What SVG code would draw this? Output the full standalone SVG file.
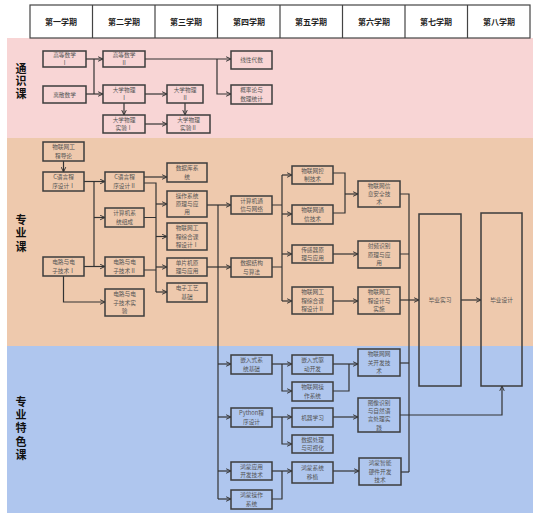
<svg xmlns="http://www.w3.org/2000/svg" width="542" height="520" viewBox="0 0 542 520">
<defs>
<marker id="a" viewBox="0 0 8 8" refX="7.5" refY="4" markerWidth="6" markerHeight="6" markerUnits="userSpaceOnUse" orient="auto">
<path d="M1,1 L7.5,4 L1,7" fill="none" stroke="#333" stroke-width="1.3"/>
</marker>
</defs>
<style>
.hd{fill:#fff;stroke:#444;stroke-width:1.2}
.ht{font-family:"Noto Sans CJK SC",sans-serif;font-size:8px;font-weight:bold;fill:#222;text-anchor:middle}
.lab{font-family:"Noto Sans CJK SC",sans-serif;font-size:11px;font-weight:bold;fill:#111;writing-mode:vertical-rl}
.n rect{fill:none;stroke:#3c3c3c;stroke-width:1.5}
.n text{font-family:"Noto Sans CJK SC",sans-serif;font-size:5.7px;fill:#555;text-anchor:middle}
.c path{fill:none;stroke:#333;stroke-width:1.2}
.c path.m{marker-end:url(#a)}
</style>
<rect width="542" height="520" fill="#fff"/>
<rect x="7" y="38" width="526" height="100" fill="#F8D5D5"/>
<rect x="7" y="138" width="526" height="208" fill="#EEC9AD"/>
<rect x="7" y="346" width="526" height="167" fill="#AFC6EE"/>
<g id="header">
<rect class="hd" x="30" y="5" width="500" height="33"/>
<path d="M92.5,5V38M155,5V38M217.5,5V38M280,5V38M342.5,5V38M405,5V38M467.5,5V38" stroke="#444" stroke-width="1.2"/>
<text class="ht" x="61" y="24.5">第一学期</text>
<text class="ht" x="124" y="24.5">第二学期</text>
<text class="ht" x="186" y="24.5">第三学期</text>
<text class="ht" x="249" y="24.5">第四学期</text>
<text class="ht" x="311" y="24.5">第五学期</text>
<text class="ht" x="374" y="24.5">第六学期</text>
<text class="ht" x="436" y="24.5">第七学期</text>
<text class="ht" x="499" y="24.5">第八学期</text>
</g>
<g id="labels">
<text class="lab" x="21" y="63" letter-spacing="1.5">通识课</text>
<text class="lab" x="21" y="214" letter-spacing="2.5">专业课</text>
<text class="lab" x="21" y="396" letter-spacing="2.3">专业特色课</text>
</g>
<g class="c" id="connectors">
<path class="m" d="M86,59H103"/>
<path class="m" d="M86,94H103"/>
<path d="M94,59V94"/>
<path class="m" d="M145,59H231"/>
<path class="m" d="M217,59V94H231"/>
<path class="m" d="M145,94H167"/>
<path class="m" d="M124,103V115"/>
<path class="m" d="M185,103V115"/>
<path class="m" d="M145,124H167"/>
<path class="m" d="M63.5,161V172"/>
<path class="m" d="M84,181.5H105"/>
<path d="M94,181.5V266.5"/>
<path class="m" d="M94,217.5H105"/>
<path class="m" d="M84,266.5H105"/>
<path class="m" d="M63.5,276V302H105"/>
<path class="m" d="M144,177H167"/>
<path d="M144,183H156V292M144,217.5H156M144,270H156"/>
<path class="m" d="M156,204H167"/>
<path class="m" d="M156,236.5H167"/>
<path class="m" d="M156,267H167"/>
<path class="m" d="M156,292H167"/>
<path class="m" d="M207,205H231"/>
<path d="M218,205V499"/>
<path class="m" d="M207,267H231"/>
<path d="M272,205H282M272,267H282M282,175V301"/>
<path class="m" d="M282,175H292"/>
<path class="m" d="M282,214H292"/>
<path class="m" d="M282,254H292"/>
<path class="m" d="M282,301H292"/>
<path d="M333,173H345V213H333"/>
<path class="m" d="M345,194H358"/>
<path class="m" d="M333,254H358"/>
<path class="m" d="M333,301H358"/>
<path d="M400,194H409V472M400,254H409"/>
<path class="m" d="M400,300H419"/>
<path class="m" d="M461,300H481"/>
<path class="m" d="M218,364H231"/>
<path class="m" d="M218,417H231"/>
<path class="m" d="M218,471H231"/>
<path class="m" d="M218,499H231"/>
<path class="m" d="M272,364H292"/>
<path class="m" d="M282,364V391H292"/>
<path class="m" d="M333,364H358"/>
<path d="M333,391H349V364"/>
<path d="M400,363H409"/>
<path class="m" d="M272,417H292"/>
<path class="m" d="M282,417V444H292"/>
<path class="m" d="M333,417H358"/>
<path class="m" d="M400,415H502V386"/>
<path class="m" d="M272,471H292"/>
<path d="M272,499H282V471"/>
<path class="m" d="M333,471H359"/>
<path d="M401,472H409"/>
</g>
<g class="n" id="gs1"><rect x="43" y="51" width="43" height="16"/><text><tspan x="64.5" y="56.9">高等数学</tspan><tspan x="64.5" y="65.2">Ⅰ</tspan></text></g>
<g class="n" id="ls"><rect x="43" y="86" width="43" height="17"/><text x="64.5" y="96.55">离散数学</text></g>
<g class="n" id="gs2"><rect x="103" y="51" width="42" height="16"/><text><tspan x="124" y="56.9">高等数学</tspan><tspan x="124" y="65.2">Ⅱ</tspan></text></g>
<g class="n" id="wl1"><rect x="103" y="85" width="42" height="18"/><text><tspan x="124" y="91.9">大学物理</tspan><tspan x="124" y="100.2">Ⅰ</tspan></text></g>
<g class="n" id="wlsy1"><rect x="103" y="115" width="42" height="18"/><text><tspan x="124" y="121.9">大学物理</tspan><tspan x="124" y="130.2">实验Ⅰ</tspan></text></g>
<g class="n" id="wl2"><rect x="167" y="85" width="36" height="18"/><text><tspan x="185" y="91.9">大学物理</tspan><tspan x="185" y="100.2">Ⅱ</tspan></text></g>
<g class="n" id="wlsy2"><rect x="167" y="115" width="43" height="18"/><text><tspan x="188.5" y="121.9">大学物理</tspan><tspan x="188.5" y="130.2">实验Ⅱ</tspan></text></g>
<g class="n" id="xxds"><rect x="231" y="51" width="41" height="18"/><text x="251.5" y="62.05">线性代数</text></g>
<g class="n" id="gl"><rect x="231" y="85" width="41" height="19"/><text><tspan x="251.5" y="92.4">概率论与</tspan><tspan x="251.5" y="100.7">数理统计</tspan></text></g>
<g class="n" id="dl"><rect x="43" y="142" width="41" height="19"/><text><tspan x="63.5" y="149.4">物联网工</tspan><tspan x="63.5" y="157.7">程导论</tspan></text></g>
<g class="n" id="c1"><rect x="43" y="172" width="41" height="19"/><text><tspan x="63.5" y="179.4">C语言程</tspan><tspan x="63.5" y="187.7">序设计Ⅰ</tspan></text></g>
<g class="n" id="c2"><rect x="105" y="172" width="39" height="19"/><text><tspan x="124.5" y="179.4">C语言程</tspan><tspan x="124.5" y="187.7">序设计Ⅱ</tspan></text></g>
<g class="n" id="jsjzc"><rect x="105" y="208" width="39" height="19"/><text><tspan x="124.5" y="215.4">计算机系</tspan><tspan x="124.5" y="223.7">统组成</tspan></text></g>
<g class="n" id="dl1"><rect x="43" y="257" width="41" height="19"/><text><tspan x="63.5" y="264.4">电路与电</tspan><tspan x="63.5" y="272.7">子技术Ⅰ</tspan></text></g>
<g class="n" id="dl2"><rect x="105" y="257" width="39" height="19"/><text><tspan x="124.5" y="264.4">电路与电</tspan><tspan x="124.5" y="272.7">子技术Ⅱ</tspan></text></g>
<g class="n" id="dlsy"><rect x="105" y="289" width="39" height="27"/><text><tspan x="124.5" y="296.25">电路与电</tspan><tspan x="124.5" y="304.55">子技术实</tspan><tspan x="124.5" y="312.85">验</tspan></text></g>
<g class="n" id="sjk"><rect x="167" y="163" width="40" height="19"/><text><tspan x="187" y="170.4">数据库系</tspan><tspan x="187" y="178.7">统</tspan></text></g>
<g class="n" id="czxt"><rect x="167" y="191" width="40" height="26"/><text><tspan x="187" y="197.75">操作系统</tspan><tspan x="187" y="206.05">原理与应</tspan><tspan x="187" y="214.35">用</tspan></text></g>
<g class="n" id="zhsj1"><rect x="167" y="223" width="40" height="27"/><text><tspan x="187" y="230.25">物联网工</tspan><tspan x="187" y="238.55">程综合课</tspan><tspan x="187" y="246.85">程设计Ⅰ</tspan></text></g>
<g class="n" id="dpj"><rect x="167" y="258" width="40" height="18"/><text><tspan x="187" y="264.9">单片机原</tspan><tspan x="187" y="273.2">理与应用</tspan></text></g>
<g class="n" id="dzgy"><rect x="167" y="283" width="40" height="19"/><text><tspan x="187" y="290.4">电子工艺</tspan><tspan x="187" y="298.7">基础</tspan></text></g>
<g class="n" id="jstx"><rect x="231" y="196" width="41" height="18"/><text><tspan x="251.5" y="202.9">计算机通</tspan><tspan x="251.5" y="211.2">信与网络</tspan></text></g>
<g class="n" id="sjjg"><rect x="231" y="258" width="41" height="19"/><text><tspan x="251.5" y="265.4">数据结构</tspan><tspan x="251.5" y="273.7">与算法</tspan></text></g>
<g class="n" id="kzjs"><rect x="292" y="166" width="41" height="18"/><text><tspan x="312.5" y="172.9">物联网控</tspan><tspan x="312.5" y="181.2">制技术</tspan></text></g>
<g class="n" id="txjs"><rect x="292" y="205" width="41" height="19"/><text><tspan x="312.5" y="212.4">物联网通</tspan><tspan x="312.5" y="220.7">信技术</tspan></text></g>
<g class="n" id="cgq"><rect x="292" y="245" width="41" height="18"/><text><tspan x="312.5" y="251.9">传感器原</tspan><tspan x="312.5" y="260.2">理与应用</tspan></text></g>
<g class="n" id="zhsj2"><rect x="292" y="287" width="41" height="27"/><text><tspan x="312.5" y="294.25">物联网工</tspan><tspan x="312.5" y="302.55">程综合课</tspan><tspan x="312.5" y="310.85">程设计Ⅱ</tspan></text></g>
<g class="n" id="xxaq"><rect x="358" y="181" width="42" height="26"/><text><tspan x="379" y="187.75">物联网信</tspan><tspan x="379" y="196.05">息安全技</tspan><tspan x="379" y="204.35">术</tspan></text></g>
<g class="n" id="spsb"><rect x="358" y="241" width="42" height="27"/><text><tspan x="379" y="248.25">射频识别</tspan><tspan x="379" y="256.55">原理与应</tspan><tspan x="379" y="264.85">用</tspan></text></g>
<g class="n" id="gcss"><rect x="358" y="287" width="42" height="27"/><text><tspan x="379" y="294.25">物联网工</tspan><tspan x="379" y="302.55">程设计与</tspan><tspan x="379" y="310.85">实施</tspan></text></g>
<g class="n" id="bysx"><rect x="419" y="214" width="42" height="172"/><text x="440" y="302.05">毕业实习</text></g>
<g class="n" id="bysj"><rect x="481" y="213" width="41" height="173"/><text x="501.5" y="301.55">毕业设计</text></g>
<g class="n" id="qrs"><rect x="231" y="355" width="41" height="19"/><text><tspan x="251.5" y="362.4">嵌入式系</tspan><tspan x="251.5" y="370.7">统基础</tspan></text></g>
<g class="n" id="qdkf"><rect x="292" y="355" width="41" height="19"/><text><tspan x="312.5" y="362.4">嵌入式驱</tspan><tspan x="312.5" y="370.7">动开发</tspan></text></g>
<g class="n" id="wlos"><rect x="292" y="382" width="41" height="19"/><text><tspan x="312.5" y="389.4">物联网操</tspan><tspan x="312.5" y="397.7">作系统</tspan></text></g>
<g class="n" id="wg"><rect x="358" y="349" width="42" height="27"/><text><tspan x="379" y="356.25">物联网网</tspan><tspan x="379" y="364.55">关开发技</tspan><tspan x="379" y="372.85">术</tspan></text></g>
<g class="n" id="py"><rect x="231" y="408" width="41" height="19"/><text><tspan x="251.5" y="415.4">Python程</tspan><tspan x="251.5" y="423.7">序设计</tspan></text></g>
<g class="n" id="jqxx"><rect x="292" y="408" width="41" height="19"/><text x="312.5" y="419.55">机器学习</text></g>
<g class="n" id="sjcl"><rect x="292" y="435" width="41" height="18"/><text><tspan x="312.5" y="441.9">数据处理</tspan><tspan x="312.5" y="450.2">与可视化</tspan></text></g>
<g class="n" id="txsb"><rect x="358" y="398" width="42" height="34"/><text><tspan x="379" y="404.6">图像识别</tspan><tspan x="379" y="412.9">与自然语</tspan><tspan x="379" y="421.2">言处理实</tspan><tspan x="379" y="429.5">践</tspan></text></g>
<g class="n" id="hmyy"><rect x="231" y="462" width="41" height="18"/><text><tspan x="251.5" y="468.9">鸿蒙应用</tspan><tspan x="251.5" y="477.2">开发技术</tspan></text></g>
<g class="n" id="hmos"><rect x="231" y="490" width="41" height="19"/><text><tspan x="251.5" y="497.4">鸿蒙操作</tspan><tspan x="251.5" y="505.7">系统</tspan></text></g>
<g class="n" id="hmyz"><rect x="292" y="462" width="41" height="21"/><text><tspan x="312.5" y="470.4">鸿蒙系统</tspan><tspan x="312.5" y="478.7">移植</tspan></text></g>
<g class="n" id="hmyj"><rect x="359" y="458" width="42" height="27"/><text><tspan x="380" y="465.25">鸿蒙智能</tspan><tspan x="380" y="473.55">硬件开发</tspan><tspan x="380" y="481.85">技术</tspan></text></g>
</svg>
